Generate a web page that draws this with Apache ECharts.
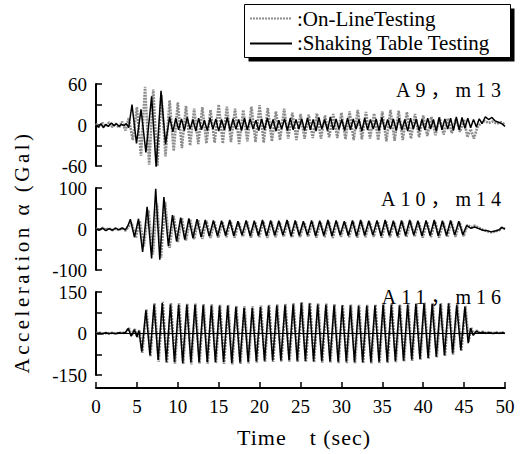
<!DOCTYPE html>
<html><head><meta charset="utf-8">
<script src="https://cdn.jsdelivr.net/npm/echarts@6/dist/echarts.min.js"></script>
<style>html,body{margin:0;padding:0;background:#fff}#c{width:530px;height:454px}#c text{font-family:"Liberation Serif","Noto Sans CJK JP",serif !important}</style>
</head><body><div id="c"></div>
<script>
// ---------- data ----------
const seriesNames = ['On-LineTesting', 'Shaking Table Testing'];
const panelTitles = ['A9，m13', 'A10，m14', 'A11，m16'];
const yRanges = [[-60, 60, 30], [-100, 100, 50], [-150, 150, 75]];
const xTicks = [0, 50, 5];
const xTitle = 'Time　t (sec)';
const yTitle = 'Acceleration α (Gal)';

const a9Online = [[0,2],[0.4,-3],[0.8,3],[1.2,-2],[1.6,4],[2.0,-3],[2.4,2],[2.8,-4],[3.2,5],[3.6,-8],[4.0,10],[4.5,-22],[5.0,26],[5.5,-45],[6.0,56],[6.5,-58],[7.0,52],[7.5,-60],[8.0,44],[8.5,-46],[9.0,36],[9.5,-38],[10.0,33],[10.5,-34],[11.0,28],[11.5,-30],[12.0,24],[12.5,-28],[13.0,26],[13.5,-27],[14.0,22],[14.5,-26],[15.0,30],[15.5,-27],[16.0,27],[16.5,-25],[17.0,24],[17.5,-28],[18.0,22],[18.5,-24],[19.0,27],[19.5,-25],[20.0,29],[20.5,-26],[21.0,25],[21.5,-24],[22.0,20],[22.5,-22],[23.0,24],[23.5,-20],[24.0,18],[24.5,-22],[25.0,16],[25.5,-20],[26.0,15],[26.5,-19],[27.0,17],[27.5,-20],[28.0,14],[28.5,-18],[29.0,16],[29.5,-19],[30.0,18],[30.5,-21],[31.0,20],[31.5,-22],[32.0,22],[32.5,-21],[33.0,19],[33.5,-20],[34.0,17],[34.5,-22],[35.0,20],[35.5,-24],[36.0,22],[36.5,-23],[37.0,21],[37.5,-22],[38.0,19],[38.5,-20],[39.0,16],[39.5,-18],[40.0,14],[40.5,-16],[41.0,12],[41.5,-15],[42.0,11],[42.5,-14],[43.0,10],[43.5,-12],[44.0,9],[44.5,-10],[45.0,8],[45.4,-18],[45.8,-6],[46.2,-20],[46.6,-4],[47.0,2],[47.5,6],[48.0,3],[48.5,5],[49.0,2],[49.5,4],[50,1]];

const a9Shake = [[0,0],[0.3,-3],[0.6,2],[0.9,-4],[1.2,1],[1.5,-2],[1.9,3],[2.2,-1],[2.5,2],[2.8,-2],[3.1,1],[3.4,-1],[3.7,2],[4.0,-4],[4.4,30],[4.95,-27],[5.5,23],[6.1,-40],[6.8,42],[7.35,-62],[7.95,50],[8.5,-28],[9.0,12],[9.4,-10],[9.75,10],[10.1,-7],[10.45,9],[10.8,-8],[11.15,11],[11.5,-6],[11.85,8],[12.2,-9],[12.55,10],[12.9,-7],[13.25,7],[13.6,-8],[13.95,10],[14.3,-6],[14.65,9],[15.0,-9],[15.35,8],[15.7,-7],[16.05,11],[16.4,-8],[16.75,9],[17.1,-6],[17.45,8],[17.8,-8],[18.15,10],[18.5,-7],[18.85,9],[19.2,-6],[19.55,7],[19.9,-8],[20.25,9],[20.6,-7],[20.95,10],[21.3,-6],[21.65,8],[22.0,-9],[22.35,7],[22.7,-6],[23.05,9],[23.4,-8],[23.75,10],[24.1,-7],[24.45,8],[24.8,-6],[25.15,9],[25.5,-8],[25.85,10],[26.2,-7],[26.55,8],[26.9,-9],[27.25,11],[27.6,-6],[27.95,8],[28.3,-8],[28.65,12],[29.0,-7],[29.35,9],[29.7,-6],[30.05,8],[30.4,-8],[30.75,10],[31.1,-7],[31.45,9],[31.8,-6],[32.15,8],[32.5,-9],[32.85,10],[33.2,-7],[33.55,8],[33.9,-6],[34.25,9],[34.6,-8],[34.95,11],[35.3,-7],[35.65,8],[36.0,-6],[36.35,9],[36.7,-8],[37.05,10],[37.4,-7],[37.75,8],[38.1,-9],[38.45,10],[38.8,-6],[39.15,9],[39.5,-8],[39.85,8],[40.2,-7],[40.55,10],[40.9,-6],[41.25,8],[41.6,-9],[41.95,11],[42.3,-7],[42.65,9],[43.0,-6],[43.35,10],[43.7,-8],[44.05,12],[44.4,-7],[44.75,11],[45.1,-5],[45.45,10],[45.8,-4],[46.15,8],[46.5,-3],[46.85,9],[47.2,2],[47.6,12],[48.0,8],[48.4,11],[48.8,6],[49.2,4],[49.6,2],[50,-2]];

const a10Online = [[0,1],[0.4,-2],[0.8,3],[1.2,-2],[1.6,2],[2.0,-3],[2.4,1],[2.8,-3],[3.2,2],[3.6,-4],[4.0,6],[4.35,15],[4.85,-22],[5.35,20],[5.85,-42],[6.4,46],[6.95,-62],[7.45,62],[7.95,-70],[8.45,66],[9.0,-46],[9.5,32],[10.0,-32],[10.5,26],[11.0,-28],[11.5,24],[12.0,-25],[12.5,21],[13.0,-24],[13.5,20],[14.0,-22],[14.45,18],[14.95,-21],[15.45,17],[15.95,-20],[16.45,19],[16.95,-21],[17.45,17],[17.95,-19],[18.45,18],[18.95,-21],[19.45,17],[19.95,-20],[20.45,19],[20.95,-22],[21.45,18],[21.95,-20],[22.45,17],[22.95,-19],[23.45,19],[23.95,-21],[24.45,18],[24.95,-20],[25.45,16],[25.95,-19],[26.45,18],[26.95,-21],[27.45,17],[27.95,-20],[28.45,19],[28.95,-22],[29.45,18],[29.95,-19],[30.45,16],[30.95,-20],[31.45,18],[31.95,-21],[32.45,19],[32.95,-20],[33.45,17],[33.95,-19],[34.45,18],[34.95,-21],[35.45,19],[35.95,-20],[36.45,17],[36.95,-21],[37.45,18],[37.95,-20],[38.45,19],[38.95,-19],[39.45,17],[39.95,-21],[40.45,18],[40.95,-20],[41.45,19],[41.95,-21],[42.45,17],[42.95,-20],[43.45,18],[43.95,-19],[44.45,17],[44.95,-18],[45.4,10],[45.9,4],[46.3,8],[46.8,3],[47.3,-2],[47.8,-5],[48.3,-8],[48.8,-6],[49.3,-3],[49.6,3],[50,0]];

const a10Shake = [[0,0],[0.4,-3],[0.8,2],[1.2,-4],[1.6,1],[2.0,-3],[2.4,2],[2.8,-2],[3.2,3],[3.6,-2],[3.9,8],[4.2,24],[4.7,-20],[5.2,25],[5.7,-56],[6.25,54],[6.8,-72],[7.3,98],[7.8,-75],[8.3,78],[8.85,-42],[9.35,34],[9.85,-30],[10.35,28],[10.85,-26],[11.35,26],[11.85,-22],[12.35,24],[12.85,-20],[13.35,22],[13.85,-18],[14.35,21],[14.85,-17],[15.35,20],[15.85,-16],[16.35,22],[16.85,-17],[17.35,19],[17.85,-15],[18.35,21],[18.85,-17],[19.35,20],[19.85,-16],[20.35,22],[20.85,-17],[21.35,21],[21.85,-16],[22.35,20],[22.85,-15],[23.35,22],[23.85,-17],[24.35,21],[24.85,-16],[25.35,19],[25.85,-15],[26.35,21],[26.85,-17],[27.35,20],[27.85,-16],[28.35,22],[28.85,-17],[29.35,21],[29.85,-15],[30.35,19],[30.85,-16],[31.35,21],[31.85,-17],[32.35,22],[32.85,-16],[33.35,20],[33.85,-15],[34.35,21],[34.85,-17],[35.35,22],[35.85,-16],[36.35,20],[36.85,-17],[37.35,21],[37.85,-16],[38.35,22],[38.85,-15],[39.35,20],[39.85,-17],[40.35,21],[40.85,-16],[41.35,22],[41.85,-17],[42.35,20],[42.85,-16],[43.35,21],[43.85,-15],[44.35,19],[44.85,-14],[45.3,8],[45.8,2],[46.3,5],[46.8,1],[47.3,-3],[47.8,-4],[48.3,-7],[48.8,-5],[49.3,-2],[49.6,4],[50,0]];

const a11Online = [[0,1],[0.4,3],[0.8,0],[1.2,2],[1.6,-1],[2.0,3],[2.4,0],[2.8,2],[3.2,3],[3.6,2],[4.0,20],[4.35,-8],[4.75,16],[5.05,-14],[5.3,12],[5.66,-70],[6.16,88],[6.66,-84],[7.16,110],[7.66,-102],[8.16,114],[8.66,-108],[9.16,110],[9.66,-109],[10.16,109],[10.66,-111],[11.16,108],[11.66,-112],[12.16,108],[12.66,-109],[13.16,106],[13.66,-109],[14.16,105],[14.66,-108],[15.16,104],[15.66,-110],[16.16,104],[16.66,-112],[17.16,100],[17.66,-110],[18.16,98],[18.66,-108],[19.16,98],[19.66,-105],[20.16,101],[20.66,-103],[21.16,104],[21.66,-103],[22.16,105],[22.66,-102],[23.16,107],[23.66,-102],[24.16,110],[24.66,-103],[25.16,114],[25.66,-104],[26.16,112],[26.66,-105],[27.16,109],[27.66,-105],[28.16,108],[28.66,-106],[29.16,106],[29.66,-107],[30.16,105],[30.66,-107],[31.16,105],[31.66,-108],[32.16,104],[32.66,-108],[33.16,104],[33.66,-108],[34.16,105],[34.66,-107],[35.16,108],[35.66,-106],[36.16,108],[36.66,-104],[37.16,105],[37.66,-102],[38.16,108],[38.66,-99],[39.16,110],[39.66,-96],[40.16,112],[40.66,-92],[41.16,110],[41.66,-88],[42.16,110],[42.66,-82],[43.16,112],[43.66,-76],[44.16,106],[44.66,-64],[45.16,100],[45.55,-30],[45.85,22],[46.15,-4],[46.5,10],[46.9,3],[47.3,6],[47.7,2],[48.1,5],[48.5,1],[48.9,4],[49.3,2],[49.7,4],[50,2]];

const a11Shake = [[0,0],[0.4,2],[0.8,-1],[1.2,3],[1.6,0],[2.0,2],[2.4,-1],[2.8,3],[3.2,1],[3.6,4],[3.95,18],[4.3,-10],[4.7,14],[5.0,-12],[5.25,10],[5.6,-66],[6.1,84],[6.6,-78],[7.1,105],[7.6,-96],[8.1,110],[8.6,-102],[9.1,105],[9.6,-104],[10.1,105],[10.6,-106],[11.1,104],[11.6,-105],[12.1,104],[12.6,-104],[13.1,102],[13.6,-104],[14.1,101],[14.6,-103],[15.1,100],[15.6,-104],[16.1,100],[16.6,-106],[17.1,96],[17.6,-105],[18.1,93],[18.6,-103],[19.1,93],[19.6,-100],[20.1,96],[20.6,-98],[21.1,100],[21.6,-98],[22.1,101],[22.6,-97],[23.1,102],[23.6,-97],[24.1,105],[24.6,-98],[25.1,110],[25.6,-99],[26.1,108],[26.6,-100],[27.1,105],[27.6,-100],[28.1,104],[28.6,-101],[29.1,102],[29.6,-102],[30.1,101],[30.6,-102],[31.1,101],[31.6,-103],[32.1,100],[32.6,-104],[33.1,100],[33.6,-104],[34.1,101],[34.6,-103],[35.1,104],[35.6,-102],[36.1,104],[36.6,-100],[37.1,101],[37.6,-98],[38.1,104],[38.6,-95],[39.1,106],[39.6,-92],[40.1,108],[40.6,-88],[41.1,106],[41.6,-84],[42.1,106],[42.6,-78],[43.1,108],[43.6,-72],[44.1,102],[44.6,-60],[45.1,96],[45.5,-35],[45.8,19],[46.1,-6],[46.5,8],[46.9,2],[47.3,5],[47.7,1],[48.1,4],[48.5,0],[48.9,3],[49.3,1],[49.7,3],[50,1]];

const onlineData = [a9Online, a10Online, a11Online];
const shakeData = [a9Shake, a10Shake, a11Shake];

// ---------- chart ----------
const FONT = 'Liberation Serif, Noto Sans CJK JP, serif';
const chart = echarts.init(document.getElementById('c'), null, {renderer: 'svg'});
const grids = [
  {left: 96, width: 409, top: 84, height: 82},
  {left: 96, width: 409, top: 188, height: 82},
  {left: 96, width: 409, top: 292, height: 83}
];
const xAxes = grids.map((g, i) => {
  if (i < 2) return {gridIndex: i, type: 'value', min: xTicks[0], max: xTicks[1], show: false};
  return {
    gridIndex: i, type: 'value', min: xTicks[0], max: xTicks[1], interval: xTicks[2],
    position: 'bottom', offset: 13,
    axisLine: {onZero: false, lineStyle: {color: '#000', width: 2}},
    axisTick: {inside: true, length: 6, lineStyle: {color: '#000', width: 1.5}},
    axisLabel: {fontSize: 19, fontFamily: FONT, color: '#000', margin: 9},
    splitLine: {show: false}
  };
});
const yAxes = yRanges.map((r, i) => ({
  gridIndex: i, type: 'value', min: r[0], max: r[1], interval: r[2],
  axisLine: {show: true, onZero: false, lineStyle: {color: '#000', width: 2}},
  axisTick: {show: true, inside: true, length: 6, lineStyle: {color: '#000', width: 1.5}},
  axisLabel: {fontSize: 19, fontFamily: FONT, color: '#000', margin: 9,
    formatter: v => (v === 0 || v === r[0] || v === r[1]) ? String(v) : ''},
  splitLine: {show: false}
}));
const series = [];
for (let i = 0; i < 3; i++) {
  series.push({
    name: seriesNames[0], type: 'line', xAxisIndex: i, yAxisIndex: i,
    data: onlineData[i], symbol: 'none', showSymbol: false, silent: true, z: 2,
    lineStyle: {color: '#8c8c8c', width: 2.6, type: [2, 1]}, itemStyle: {color: '#8c8c8c'}
  });
  const s = {
    name: seriesNames[1], type: 'line', xAxisIndex: i, yAxisIndex: i,
    data: shakeData[i], symbol: 'none', showSymbol: false, silent: true, z: 3,
    lineStyle: {color: '#000', width: 1.5}, itemStyle: {color: '#000'}
  };
  if (i === 2) s.markLine = {symbol: 'none', silent: true, label: {show: false},
    lineStyle: {color: '#000', width: 1, type: 'solid'}, data: [{yAxis: 0}]};
  series.push(s);
}
const titleY = [90, 199, 297];
const graphics = [
  {type: 'rect', shape: {x: 248.5, y: 8.5, width: 266, height: 53}, style: {fill: '#000'}, z: 0},
  {type: 'rect', shape: {x: 244.5, y: 4.5, width: 266, height: 53}, style: {fill: '#fff', stroke: '#000', lineWidth: 1}, z: 1},
  {type: 'text', x: 22, y: 252, rotation: Math.PI / 2, z: 5,
    style: {text: yTitle, font: '21px ' + FONT, fill: '#000', textAlign: 'center', textVerticalAlign: 'middle'}},
  {type: 'text', x: 304, y: 437, z: 5,
    style: {text: xTitle, font: '22px ' + FONT, fill: '#000', textAlign: 'center', textVerticalAlign: 'middle'}}
];
panelTitles.forEach((t, i) => graphics.push({type: 'text', x: 506, y: titleY[i], z: 5,
  style: {text: t, font: '20px ' + FONT, fill: '#000', textAlign: 'right', textVerticalAlign: 'middle'}}));

chart.setOption({
  animation: false,
  backgroundColor: '#fff',
  grid: grids,
  xAxis: xAxes,
  yAxis: yAxes,
  legend: {
    data: seriesNames, orient: 'vertical', left: 249, top: 8, padding: 0,
    itemWidth: 42, itemHeight: 12, itemGap: 4,
    formatter: ':{name}', selectedMode: false, z: 10,
    itemStyle: {color: 'transparent', borderColor: 'transparent', borderWidth: 0, opacity: 0},
    textStyle: {fontSize: 21, fontFamily: FONT, color: '#000', lineHeight: 20}
  },
  graphic: graphics,
  series: series
});

const spacing = {};
spacing[yTitle] = 3.5;
spacing[xTitle] = 1;
panelTitles.forEach(t => spacing[t] = 5);
function applySpacing() {
  document.querySelectorAll('#c text').forEach(el => {
    const s = (el.textContent || '').trim();
    if (spacing[s] != null) el.setAttribute('letter-spacing', spacing[s]);
  });
}
chart.on('finished', applySpacing);
applySpacing();
setTimeout(applySpacing, 50);
</script></body></html>
